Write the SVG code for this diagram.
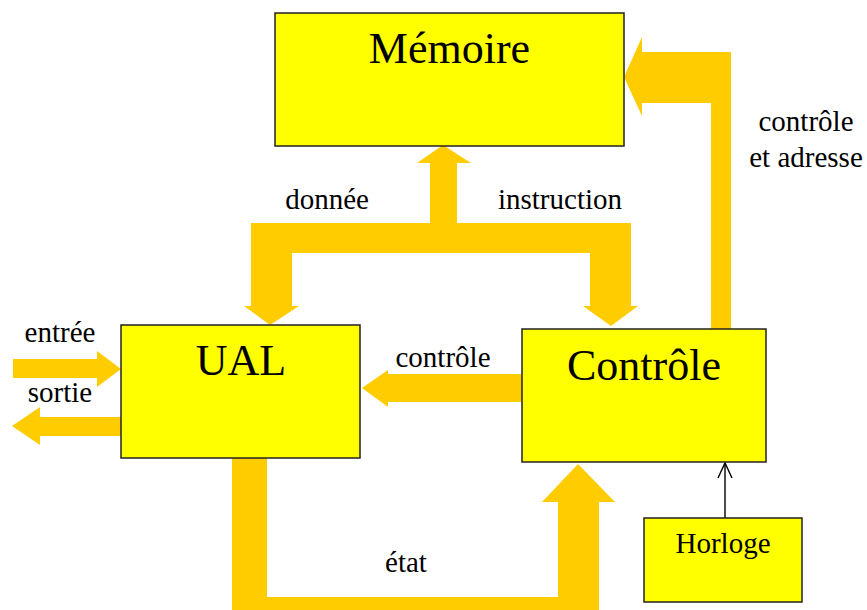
<svg xmlns="http://www.w3.org/2000/svg" width="867" height="610" viewBox="0 0 867 610">
<style>
.flow{fill:#FFCC00;stroke:none}
.box{fill:#FFFF00;stroke:#222;stroke-width:1.5}
text{font-family:"Liberation Serif","Times New Roman",serif;fill:#000}
.big{font-size:44px;text-anchor:middle}
.lbl{font-size:29px;text-anchor:middle}
</style>
<defs>
<marker id="open" markerWidth="18" markerHeight="18" refX="16" refY="8" orient="auto" markerUnits="userSpaceOnUse" viewBox="0 0 18 16">
<path d="M1,1 L16,8 L1,15" fill="none" stroke="#000" stroke-width="1.4"/>
</marker>
</defs>
<g id="connectors">
<!-- donnee / instruction bus -->
<polygon class="flow" points="443,145 471,163 457,163 457,223 631,223 631,306 638,306 611,326 583,306 590,306 590,253 292,253 292,306 299,306 270,325 244,306 251,306 251,223 430,223 430,163 417,163"/>
<!-- controle et adresse -->
<polygon class="flow" points="624,77 642,37 642,52 731,52 731,330 711,330 711,103 642,103 642,116"/>
<!-- controle to UAL -->
<polygon class="flow" points="362,388 388,370 388,374 522,374 522,402 388,402 388,407"/>
<!-- entree -->
<polygon class="flow" points="13,359 97,359 97,351 121,369 97,387 97,378 13,378"/>
<!-- sortie -->
<polygon class="flow" points="12,426 40,407 40,417 121,417 121,436 40,436 40,445"/>
<!-- etat -->
<polygon class="flow" points="232,458 267,458 267,597 558,597 558,502 542,502 578,464 615,502 599,502 599,610 232,610"/>
<!-- horloge -->
<line x1="725" y1="518" x2="725" y2="463" stroke="#000" stroke-width="1.4" marker-end="url(#open)"/>
<text class="lbl" x="327" y="209">donnée</text>
<text class="lbl" x="560" y="209">instruction</text>
<text class="lbl" x="806" y="131">contrôle</text>
<text class="lbl" x="806" y="167">et adresse</text>
<text class="lbl" x="443" y="367">contrôle</text>
<text class="lbl" x="60" y="342">entrée</text>
<text class="lbl" x="60" y="402">sortie</text>
<text class="lbl" x="406" y="572">état</text>
</g>
<g id="memoire">
<rect class="box" x="275" y="13" width="349" height="133"/>
<text class="big" x="449.5" y="63">Mémoire</text>
</g>
<g id="ual">
<rect class="box" x="121" y="325" width="239" height="133"/>
<text class="big" x="241" y="375">UAL</text>
</g>
<g id="controle">
<rect class="box" x="522" y="329" width="244" height="133"/>
<text class="big" x="644" y="380">Contrôle</text>
</g>
<g id="horloge">
<rect class="box" x="644" y="518" width="158" height="84"/>
<text class="lbl" x="723" y="553">Horloge</text>
</g>
</svg>
